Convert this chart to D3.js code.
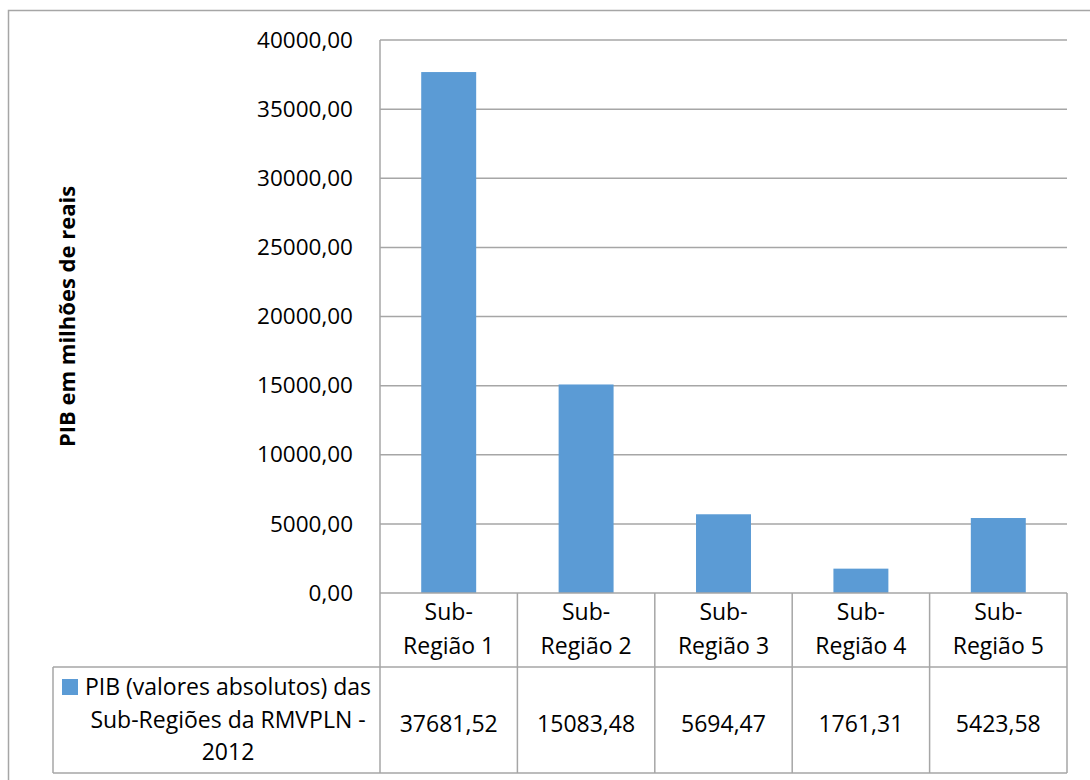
<!DOCTYPE html>
<html>
<head>
<meta charset="utf-8">
<script src="https://cdn.jsdelivr.net/npm/d3@7"></script>
<style>
  body { margin: 0; background: #fff; }
  text { font-family: "Open Sans", sans-serif; fill: #000; }
</style>
</head>
<body>
<div id="chart"></div>
<script>
// data
var regioes = ["Sub-Região 1", "Sub-Região 2", "Sub-Região 3", "Sub-Região 4", "Sub-Região 5"];
var pib = [37681.52, 15083.48, 5694.47, 1761.31, 5423.58];
var yTicks = [0, 5000, 10000, 15000, 20000, 25000, 30000, 35000, 40000];
var serieNome = ["PIB (valores absolutos) das", "Sub-Regiões da RMVPLN -", "2012"];
var eixoY = "PIB em milhões de reais";

function pibChart () {
    var width = 1090, height = 780,
        plot = {left: 380, right: 1067, top: 40, bottom: 593},
        rowCat = 667, rowVal = 773, legendLeft = 53,
        barColor = "#5b9bd5", lineColor = "#a6a6a6",
        fontSize = 23;

    var br = d3.formatLocale({decimal: ",", thousands: "", grouping: [3], currency: ["", ""]});
    var fmt = br.format(".2f");

    var x = d3.scaleBand().domain(regioes).range([plot.left, plot.right]);
    var y = d3.scaleLinear().domain([0, 40000]).range([plot.bottom, plot.top]);

    var svg = d3.select("#chart").append("svg")
        .attr("width", width)
        .attr("height", height);

    // chart area border (runs off the right and bottom edges)
    svg.append("rect")
        .attr("x", 8.5).attr("y", 10.5)
        .attr("width", 1100).attr("height", 800)
        .attr("fill", "none")
        .attr("stroke", lineColor)
        .attr("stroke-width", 1.5);

    // gridlines
    svg.append("g")
        .selectAll("line")
        .data(yTicks.slice(1))
        .enter().append("line")
        .attr("x1", plot.left).attr("x2", plot.right)
        .attr("y1", function(d) { return y(d); })
        .attr("y2", function(d) { return y(d); })
        .attr("stroke", lineColor)
        .attr("stroke-width", 1.5);

    // y tick labels via axis
    var yAxis = svg.append("g")
        .attr("transform", "translate(" + (plot.left - 27) + ",0)")
        .call(d3.axisLeft(y).tickValues(yTicks).tickFormat(fmt).tickSize(0).tickPadding(0));
    yAxis.select(".domain").remove();
    yAxis.selectAll("text")
        .style("font-family", "'Open Sans', sans-serif")
        .style("font-size", "22.5px")
        .attr("fill", "#000");

    // bars
    var barW = x.bandwidth() * 0.4;
    svg.append("g")
        .selectAll("rect")
        .data(pib)
        .enter().append("rect")
        .attr("x", function(d, i) { return x(regioes[i]) + (x.bandwidth() - barW) / 2; })
        .attr("y", function(d) { return y(d); })
        .attr("width", barW)
        .attr("height", function(d) { return y(0) - y(d); })
        .attr("fill", barColor);

    // data table lines
    var tbl = svg.append("g")
        .attr("stroke", lineColor)
        .attr("stroke-width", 1.5);
    tbl.append("line").attr("x1", plot.left).attr("x2", plot.left).attr("y1", plot.top).attr("y2", rowVal);
    tbl.append("line").attr("x1", plot.left).attr("x2", plot.right).attr("y1", plot.bottom).attr("y2", plot.bottom);
    tbl.append("line").attr("x1", legendLeft).attr("x2", plot.right).attr("y1", rowCat).attr("y2", rowCat);
    tbl.append("line").attr("x1", legendLeft).attr("x2", plot.right).attr("y1", rowVal).attr("y2", rowVal);
    tbl.append("line").attr("x1", legendLeft).attr("x2", legendLeft).attr("y1", rowCat).attr("y2", rowVal);
    tbl.selectAll(".col")
        .data(regioes)
        .enter().append("line")
        .attr("class", "col")
        .attr("x1", function(d) { return x(d) + x.bandwidth(); })
        .attr("x2", function(d) { return x(d) + x.bandwidth(); })
        .attr("y1", plot.bottom).attr("y2", rowVal);

    // category labels (two lines)
    var cat = svg.append("g")
        .selectAll("text")
        .data(regioes)
        .enter().append("text")
        .attr("text-anchor", "middle")
        .style("font-size", fontSize + "px");
    cat.append("tspan")
        .attr("x", function(d) { return x(d) + x.bandwidth() / 2; })
        .attr("y", 620)
        .text(function(d) { return d.split("-")[0] + "-"; });
    cat.append("tspan")
        .attr("x", function(d) { return x(d) + x.bandwidth() / 2; })
        .attr("y", 654)
        .text(function(d) { return d.split("-")[1]; });

    // value cells
    svg.append("g")
        .selectAll("text")
        .data(pib)
        .enter().append("text")
        .attr("text-anchor", "middle")
        .attr("x", function(d, i) { return x(regioes[i]) + x.bandwidth() / 2; })
        .attr("y", 732)
        .style("font-size", fontSize + "px")
        .text(function(d) { return fmt(d); });

    // legend key + series name
    svg.append("rect")
        .attr("x", 62).attr("y", 679)
        .attr("width", 16).attr("height", 16)
        .attr("fill", barColor);
    svg.append("g")
        .selectAll("text")
        .data(serieNome)
        .enter().append("text")
        .attr("text-anchor", "middle")
        .attr("x", 228)
        .attr("y", function(d, i) { return 695 + i * 32.5; })
        .style("font-size", fontSize + "px")
        .text(function(d) { return d; });

    // y axis title
    svg.append("text")
        .attr("transform", "translate(75," + ((plot.top + plot.bottom) / 2) + ") rotate(-90)")
        .attr("text-anchor", "middle")
        .style("font-size", "22px")
        .style("font-weight", "bold")
        .text(eixoY);
}

pibChart();
</script>
</body>
</html>
